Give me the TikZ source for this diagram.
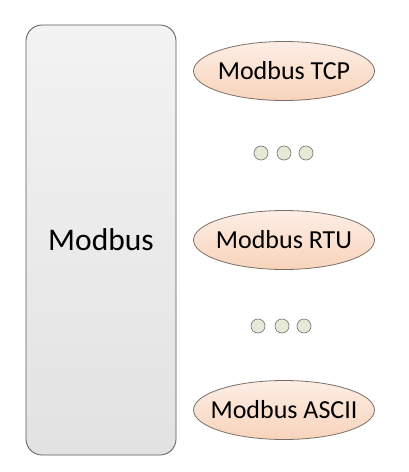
\documentclass[tikz,border=0pt]{standalone}
\usepackage{fontspec}
\setmainfont{Carlito}
\usetikzlibrary{shapes.geometric}
\definecolor{boxtop}{HTML}{F3F3F3}
\definecolor{boxbot}{HTML}{E2E2E2}
\definecolor{boxline}{HTML}{5A5A5A}
\definecolor{elltop}{HTML}{FDEEE5}
\definecolor{ellbot}{HTML}{F8D3BB}
\definecolor{ellline}{HTML}{7A6F68}
\definecolor{dotfill}{HTML}{E4EAD6}
\definecolor{dotline}{HTML}{7F7F7F}
\tikzset{
  bigbox/.style={draw=boxline, line width=0.8pt, rounded corners=16pt, top color=boxtop, bottom color=boxbot,
    minimum width=150pt, minimum height=430pt, inner sep=0pt, font=\fontsize{31.5}{36}\selectfont},
  proto/.style={ellipse, draw=ellline, line width=0.8pt, top color=elltop, bottom color=ellbot,
    minimum width=181pt, minimum height=59pt, inner xsep=-25pt, inner ysep=0pt, font=\fontsize{26}{30}\selectfont},
  dot/.style={circle, draw=dotline, line width=0.7pt, fill=dotfill, minimum size=14pt, inner sep=0pt}
}
\begin{document}
\begin{tikzpicture}[x=1pt,y=-1pt]
\useasboundingbox (0,0) rectangle (409,472);
\node[bigbox] (modbus) at (101,240) {Modbus};
\node[proto] (tcp) at (284,71) {Modbus TCP};
\node[proto] (rtu) at (284,240) {Modbus RTU};
\node[proto] (ascii) at (284,410) {Modbus ASCII};
\node[dot] (d1) at (261,153) {};
\node[dot] (d2) at (284,153) {};
\node[dot] (d3) at (306,153) {};
\node[dot] (d4) at (258,326) {};
\node[dot] (d5) at (282,326) {};
\node[dot] (d6) at (304,326) {};
\end{tikzpicture}
\end{document}
